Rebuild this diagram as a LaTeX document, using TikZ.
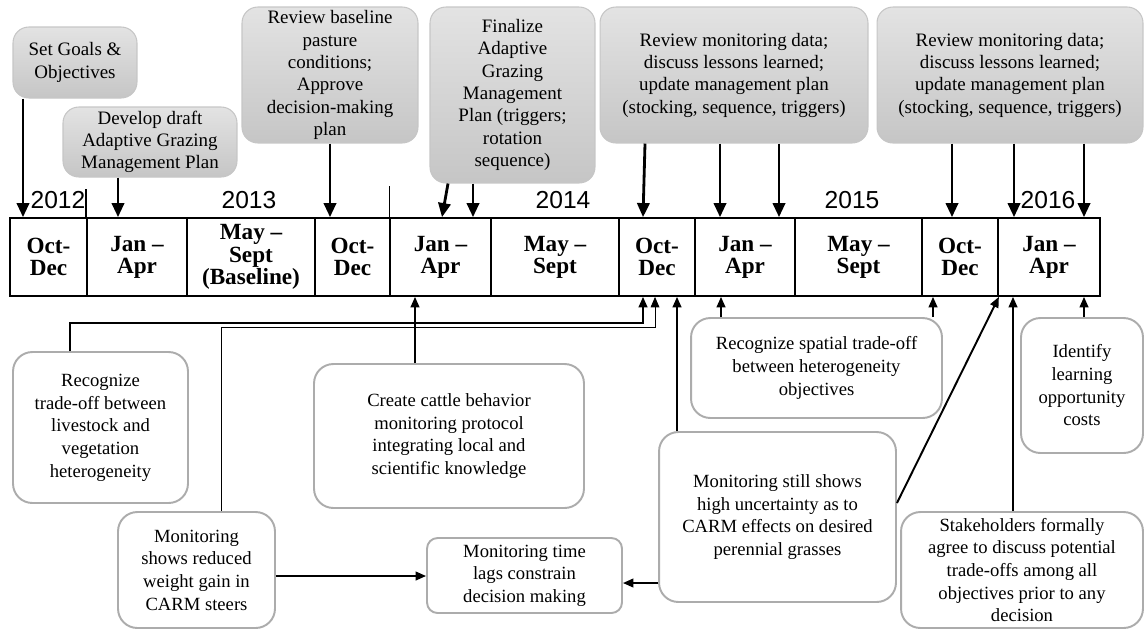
\documentclass[tikz,border=0pt]{standalone}
\usepackage{fontspec}
\setmainfont{Liberation Serif}
\newfontfamily\yearfont{Liberation Sans}
\usetikzlibrary{arrows.meta}

\begin{document}
\begin{tikzpicture}[
    x=0.02cm, y=-0.02cm,
    topbox/.style={
        rectangle,
        rounded corners=9pt,
        draw=gray!45,
        line width=0.6pt,
        top color=gray!22,
        bottom color=gray!45,
        align=center,
        inner sep=2pt,
        font=\fontsize{10.8}{12.7}\selectfont
    },
    botbox/.style={
        rectangle,
        rounded corners=11pt,
        draw=gray!65,
        line width=1.1pt,
        fill=white,
        align=center,
        inner sep=2pt,
        font=\fontsize{10.6}{12.9}\selectfont
    },
    cell/.style={
        rectangle,
        draw=black,
        line width=1pt,
        minimum height=1.56cm,
        inner sep=0pt,
        align=center,
        font=\fontsize{13.2}{12.6}\selectfont\bfseries
    },
    year/.style={font=\yearfont\fontsize{14}{16}\selectfont},
    downarr/.style={-{Triangle[width=7pt,length=8pt]}, line width=1.6pt},
    uparr/.style={-{Triangle[width=5pt,length=6pt]}, line width=1.1pt},
    thinarr/.style={-{Triangle[width=5pt,length=6pt]}, line width=0.5pt}
]
\useasboundingbox (0,0) rectangle (1145,630);

% Timeline
\foreach \l/\r/\t [count=\i] in {
    10/87/{Oct-\\Dec}, 87/187/{Jan –\\Apr}, 187/315/{May –\\Sept\\(Baseline)},
    315/390/{Oct-\\Dec}, 390/491/{Jan –\\Apr}, 491/619/{May –\\Sept},
    619/695/{Oct-\\Dec}, 695/795/{Jan –\\Apr}, 795/922/{May –\\Sept},
    922/998/{Oct-\\Dec}, 998/1100/{Jan –\\Apr}}
    \node[cell, minimum width={(\r-\l)*0.02cm}] (c\i) at ({(\l+\r)/2},257) {\t};

% Years
\node[year] (y12) at (58,200) {2012};
\node[year] (y13) at (249,200) {2013};
\node[year] (y14) at (563,200) {2014};
\node[year] (y15) at (852,200) {2015};
\node[year] (y16) at (1048,200) {2016};
\draw[line width=1pt] (c2.north west) -- ++(0,-28);
\draw[line width=0.5pt] (c5.north west) -- ++(0,-31);

% Planning steps
\node[topbox, minimum width=2.48cm, minimum height=1.42cm] (goals) at (75,62.5) {Set Goals \&\\Objectives};
\node[topbox, minimum width=3.48cm, minimum height=1.40cm] (draft) at (150,142) {Develop draft\\Adaptive Grazing\\Management Plan};
\node[topbox, minimum width=3.52cm, minimum height=2.72cm] (baseline) at (330,75) {Review baseline\\pasture\\conditions;\\Approve\\decision-making\\plan};
\node[topbox, minimum width=3.30cm, minimum height=3.52cm] (finalize) at (512.5,95) {Finalize\\Adaptive\\Grazing\\Management\\Plan (triggers;\\rotation\\sequence)};
\node[topbox, minimum width=5.36cm, minimum height=2.72cm] (review1) at (734,75) {Review monitoring data;\\discuss lessons learned;\\update management plan\\(stocking, sequence, triggers)};
\node[topbox, minimum width=5.32cm, minimum height=2.72cm] (review2) at (1010,75) {Review monitoring data;\\discuss lessons learned;\\update management plan\\(stocking, sequence, triggers)};

% Learning outcomes
\node[botbox, minimum width=3.50cm, minimum height=3.02cm] (recog1) at (100.5,427.5) {Recognize\\trade-off between\\livestock and\\vegetation\\heterogeneity};
\node[botbox, minimum width=5.40cm, minimum height=2.88cm] (cattle) at (449,436) {Create cattle behavior\\monitoring protocol\\integrating local and\\scientific knowledge};
\node[botbox, minimum width=3.14cm, minimum height=2.32cm] (weight) at (196.5,570) {Monitoring\\shows reduced\\weight gain in\\CARM steers};
\node[botbox, rounded corners=6pt, minimum width=3.90cm, minimum height=1.50cm] (lags) at (524.5,575.5) {Monitoring time\\lags constrain\\decision making};
\node[botbox, minimum width=5.02cm, minimum height=2.00cm] (spatial) at (816.5,368) {Recognize spatial trade-off\\between heterogeneity\\objectives};
\node[botbox, minimum width=2.44cm, minimum height=2.70cm] (identify) at (1082,385.5) {Identify\\learning\\opportunity\\costs};
\node[botbox, minimum width=4.74cm, minimum height=3.40cm] (uncertain) at (777.5,517) {Monitoring still shows\\high uncertainty as to\\CARM effects on desired\\perennial grasses};
\node[botbox, minimum width=4.84cm, minimum height=2.32cm] (stake) at (1022,570) {Stakeholders formally\\agree to discuss potential\\trade-offs among all\\objectives prior to any\\decision};

% Arrows down
\draw[downarr] (goals.south -| 23,0) -- (c1.north -| 23,0);
\draw[downarr] (draft.south -| 118,0) -- (c2.north -| 118,0);
\draw[downarr] (baseline.south -| 330,0) -- (c4.north -| 330,0);
\draw[downarr] (finalize.south -| 448,0) -- (c5.north -| 442,0);
\draw[downarr] (finalize.south -| 473,0) -- (c5.north -| 473,0);
\draw[downarr] (review1.south -| 645,0) -- (c7.north -| 643,0);
\draw[downarr] (review1.south -| 720,0) -- (c8.north -| 720,0);
\draw[downarr] (review1.south -| 779,0) -- (c8.north -| 779,0);
\draw[downarr] (review2.south -| 952,0) -- (c10.north -| 952,0);
\draw[downarr] (review2.south -| 1014,0) -- (c11.north -| 1014,0);
\draw[downarr] (review2.south -| 1084,0) -- (c11.north -| 1084,0);

% Arrows up
\draw[uparr] (recog1.north -| 70,0) |- (643,323) -- (c7.south -| 643,0);
\draw[thinarr] (weight.north -| 221,0) |- (655,327) -- (c7.south -| 655,0);
\draw[uparr] (cattle.north -| 415,0) -- (c5.south -| 415,0);
\draw[uparr] (uncertain.north -| 677,0) -- (c7.south -| 677,0);
\draw[uparr] (spatial.north -| 721,0) -- (c8.south -| 721,0);
\draw[uparr] (spatial.north -| 933,0) -- (c10.south -| 933,0);
\draw[uparr] (uncertain.east |- 0,503) -- (c10.south east);
\draw[uparr] (stake.north -| 1013,0) -- (c11.south -| 1013,0);
\draw[uparr] (identify.north -| 1084,0) -- (c11.south -| 1084,0);
\draw[uparr] (uncertain.west |- 0,583) -- (lags.east |- 0,583);
\draw[uparr] (weight.east |- 0,576) -- (lags.west |- 0,576);

\end{tikzpicture}
\end{document}
